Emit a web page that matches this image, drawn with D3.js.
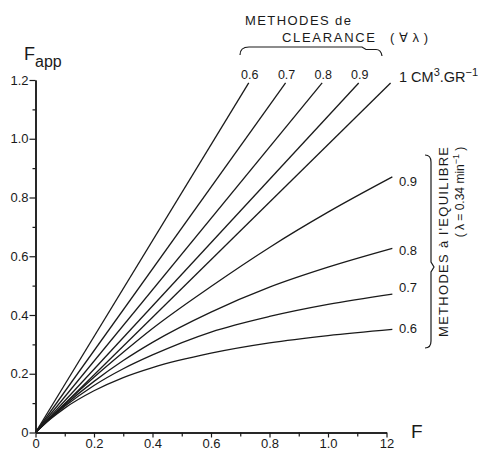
<!DOCTYPE html>
<html>
<head>
<meta charset="utf-8">
<script src="https://cdn.jsdelivr.net/npm/d3@7"></script>
<style>
  html, body { margin: 0; padding: 0; background: #fff; }
  svg text { font-family: 'Liberation Sans', 'DejaVu Sans', sans-serif; fill: #1a1a1a; }
</style>
</head>
<body>
<svg id="chart" width="478" height="456"></svg>
<script>
// Axis ticks
const xTicks = [0, 0.2, 0.4, 0.6, 0.8, 1.0, 1.2];
const xTickLabels = ['0', '0.2', '0.4', '0.6', '0.8', '1.0', '12'];
const yTicks = [0, 0.2, 0.4, 0.6, 0.8, 1.0, 1.2];
const yTickLabels = ['0', '0.2', '0.4', '0.6', '0.8', '1.0', '1.2'];
const minorTicks = [0.1, 0.3, 0.5, 0.7, 0.9, 1.1];

// Clearance methods: straight lines from the origin, read at their upper end
const clearanceLabels = ['0.6', '0.7', '0.8', '0.9', '1'];
const clearanceEndF = [0.729, 0.855, 0.98, 1.105, 1.214];
const clearanceEndFapp = [1.19, 1.19, 1.19, 1.19, 1.19];

// Equilibrium methods (lambda = 0.34 min-1)
const eqLabels = ['0.9', '0.8', '0.7', '0.6'];
const eqF = [0, 0.05, 0.1, 0.2, 0.3, 0.4, 0.6, 0.8, 1.0, 1.22];
const eq09 = [0, 0.049, 0.097, 0.188, 0.273, 0.354, 0.497, 0.630, 0.750, 0.870];
const eq08 = [0, 0.048, 0.093, 0.174, 0.245, 0.307, 0.410, 0.495, 0.563, 0.627];
const eq07 = [0, 0.047, 0.089, 0.160, 0.217, 0.264, 0.342, 0.395, 0.436, 0.471];
const eq06 = [0, 0.045, 0.083, 0.142, 0.187, 0.221, 0.270, 0.305, 0.330, 0.351];

const svg = d3.select('#chart');
const ink = '#1a1a1a';

const x = d3.scaleLinear().domain([0, 1.2]).range([35.5, 386.5]);
const y = d3.scaleLinear().domain([0, 1.2]).range([432.5, 80]);

// ── Axes ──────────────────────────────────────────────────
const xMinor = svg.append('g').attr('transform', `translate(0,${y(0)})`)
  .call(d3.axisBottom(x).tickValues(minorTicks).tickSize(4).tickSizeOuter(0).tickFormat(''));
const xAxis = svg.append('g').attr('transform', `translate(0,${y(0)})`)
  .call(d3.axisBottom(x).tickValues(xTicks).tickSize(5).tickSizeOuter(0).tickPadding(1)
    .tickFormat((d, i) => xTickLabels[i]));

const yMinor = svg.append('g').attr('transform', `translate(${x(0)},0)`)
  .call(d3.axisLeft(y).tickValues(minorTicks).tickSize(3).tickSizeOuter(0).tickFormat(''));
const yAxis = svg.append('g').attr('transform', `translate(${x(0)},0)`)
  .call(d3.axisLeft(y).tickValues(yTicks).tickSize(6).tickSizeOuter(0).tickPadding(1)
    .tickFormat((d, i) => yTickLabels[i]));

[xMinor, xAxis, yMinor, yAxis].forEach(g => {
  g.select('.domain').attr('stroke', ink).attr('stroke-width', 1.5);
  g.selectAll('.tick line').attr('stroke', ink).attr('stroke-width', 1.2);
  g.selectAll('.tick text').attr('font-size', 13)
    .attr('font-family', "'Liberation Sans', sans-serif").attr('fill', ink);
});

// Axis titles
const fapp = svg.append('text').attr('x', 24).attr('y', 60).attr('font-size', 18);
fapp.append('tspan').text('F');
fapp.append('tspan').attr('dy', 7).attr('font-size', 16).text('app');

svg.append('text').attr('x', 411).attr('y', 438).attr('font-size', 19).text('F');

// ── Curves ────────────────────────────────────────────────
const line = d3.line().x(d => x(d[0])).y(d => y(d[1]));
const smooth = d3.line().x(d => x(d[0])).y(d => y(d[1])).curve(d3.curveMonotoneX);

clearanceLabels.forEach((lab, i) => {
  svg.append('path')
    .datum([[0, 0], [clearanceEndF[i], clearanceEndFapp[i]]])
    .attr('d', line)
    .attr('fill', 'none').attr('stroke', ink).attr('stroke-width', 1.3);
});

const eqSeries = [eq09, eq08, eq07, eq06];
eqSeries.forEach(vals => {
  svg.append('path')
    .datum(eqF.map((f, j) => [f, vals[j]]))
    .attr('d', smooth)
    .attr('fill', 'none').attr('stroke', ink).attr('stroke-width', 1.3);
});

// ── Labels: clearance ─────────────────────────────────────
clearanceLabels.slice(0, 4).forEach((lab, i) => {
  svg.append('text')
    .attr('x', x(clearanceEndF[i]) + 1).attr('y', 79)
    .attr('text-anchor', 'middle').attr('font-size', 12.5)
    .text(lab);
});

const unit = svg.append('text').attr('x', 399).attr('y', 82).attr('font-size', 14.5);
unit.append('tspan').text('1 CM');
unit.append('tspan').attr('dy', -6).attr('font-size', 11).text('3');
unit.append('tspan').attr('dy', 6).text('.GR');
unit.append('tspan').attr('dy', -6).attr('font-size', 11).text('−1');

svg.append('text').attr('x', 245).attr('y', 25).attr('font-size', 13)
  .attr('textLength', 106).attr('lengthAdjust', 'spacing').text('METHODES de');
svg.append('text').attr('x', 282).attr('y', 42).attr('font-size', 13)
  .attr('textLength', 93).attr('lengthAdjust', 'spacing').text('CLEARANCE');
svg.append('text').attr('x', 390).attr('y', 42).attr('font-size', 13)
  .attr('textLength', 38).attr('lengthAdjust', 'spacing').text('( ∀ λ )');

// top brace
svg.append('path')
  .attr('d', 'M240,55 Q240,47 249,47 L362,47 L366,49.5 L376,49.5 Q381,49.5 382,56')
  .attr('fill', 'none').attr('stroke', ink).attr('stroke-width', 1.2);

// ── Labels: equilibrium ───────────────────────────────────
const eqLabelY = [186, 255, 292, 333];
eqLabels.forEach((lab, i) => {
  svg.append('text').attr('x', 399).attr('y', eqLabelY[i]).attr('font-size', 13).text(lab);
});

// right brace
svg.append('path')
  .attr('d', 'M425,155 Q431,155 431,162 L431,262 L434,267 L431,272 L431,341 Q431,348 425,348')
  .attr('fill', 'none').attr('stroke', ink).attr('stroke-width', 1.2);

svg.append('text')
  .attr('transform', 'translate(448,242) rotate(-90)')
  .attr('text-anchor', 'middle').attr('font-size', 13)
  .attr('textLength', 190).attr('lengthAdjust', 'spacing')
  .text("METHODES à l'EQUILIBRE");

const lam = svg.append('text')
  .attr('transform', 'translate(464,192) rotate(-90)')
  .attr('text-anchor', 'middle').attr('font-size', 12);
lam.append('tspan').text('( λ = 0.34 min');
lam.append('tspan').attr('dy', -5).attr('font-size', 9).text('−1');
lam.append('tspan').attr('dy', 5).text(' )');
</script>
</body>
</html>
